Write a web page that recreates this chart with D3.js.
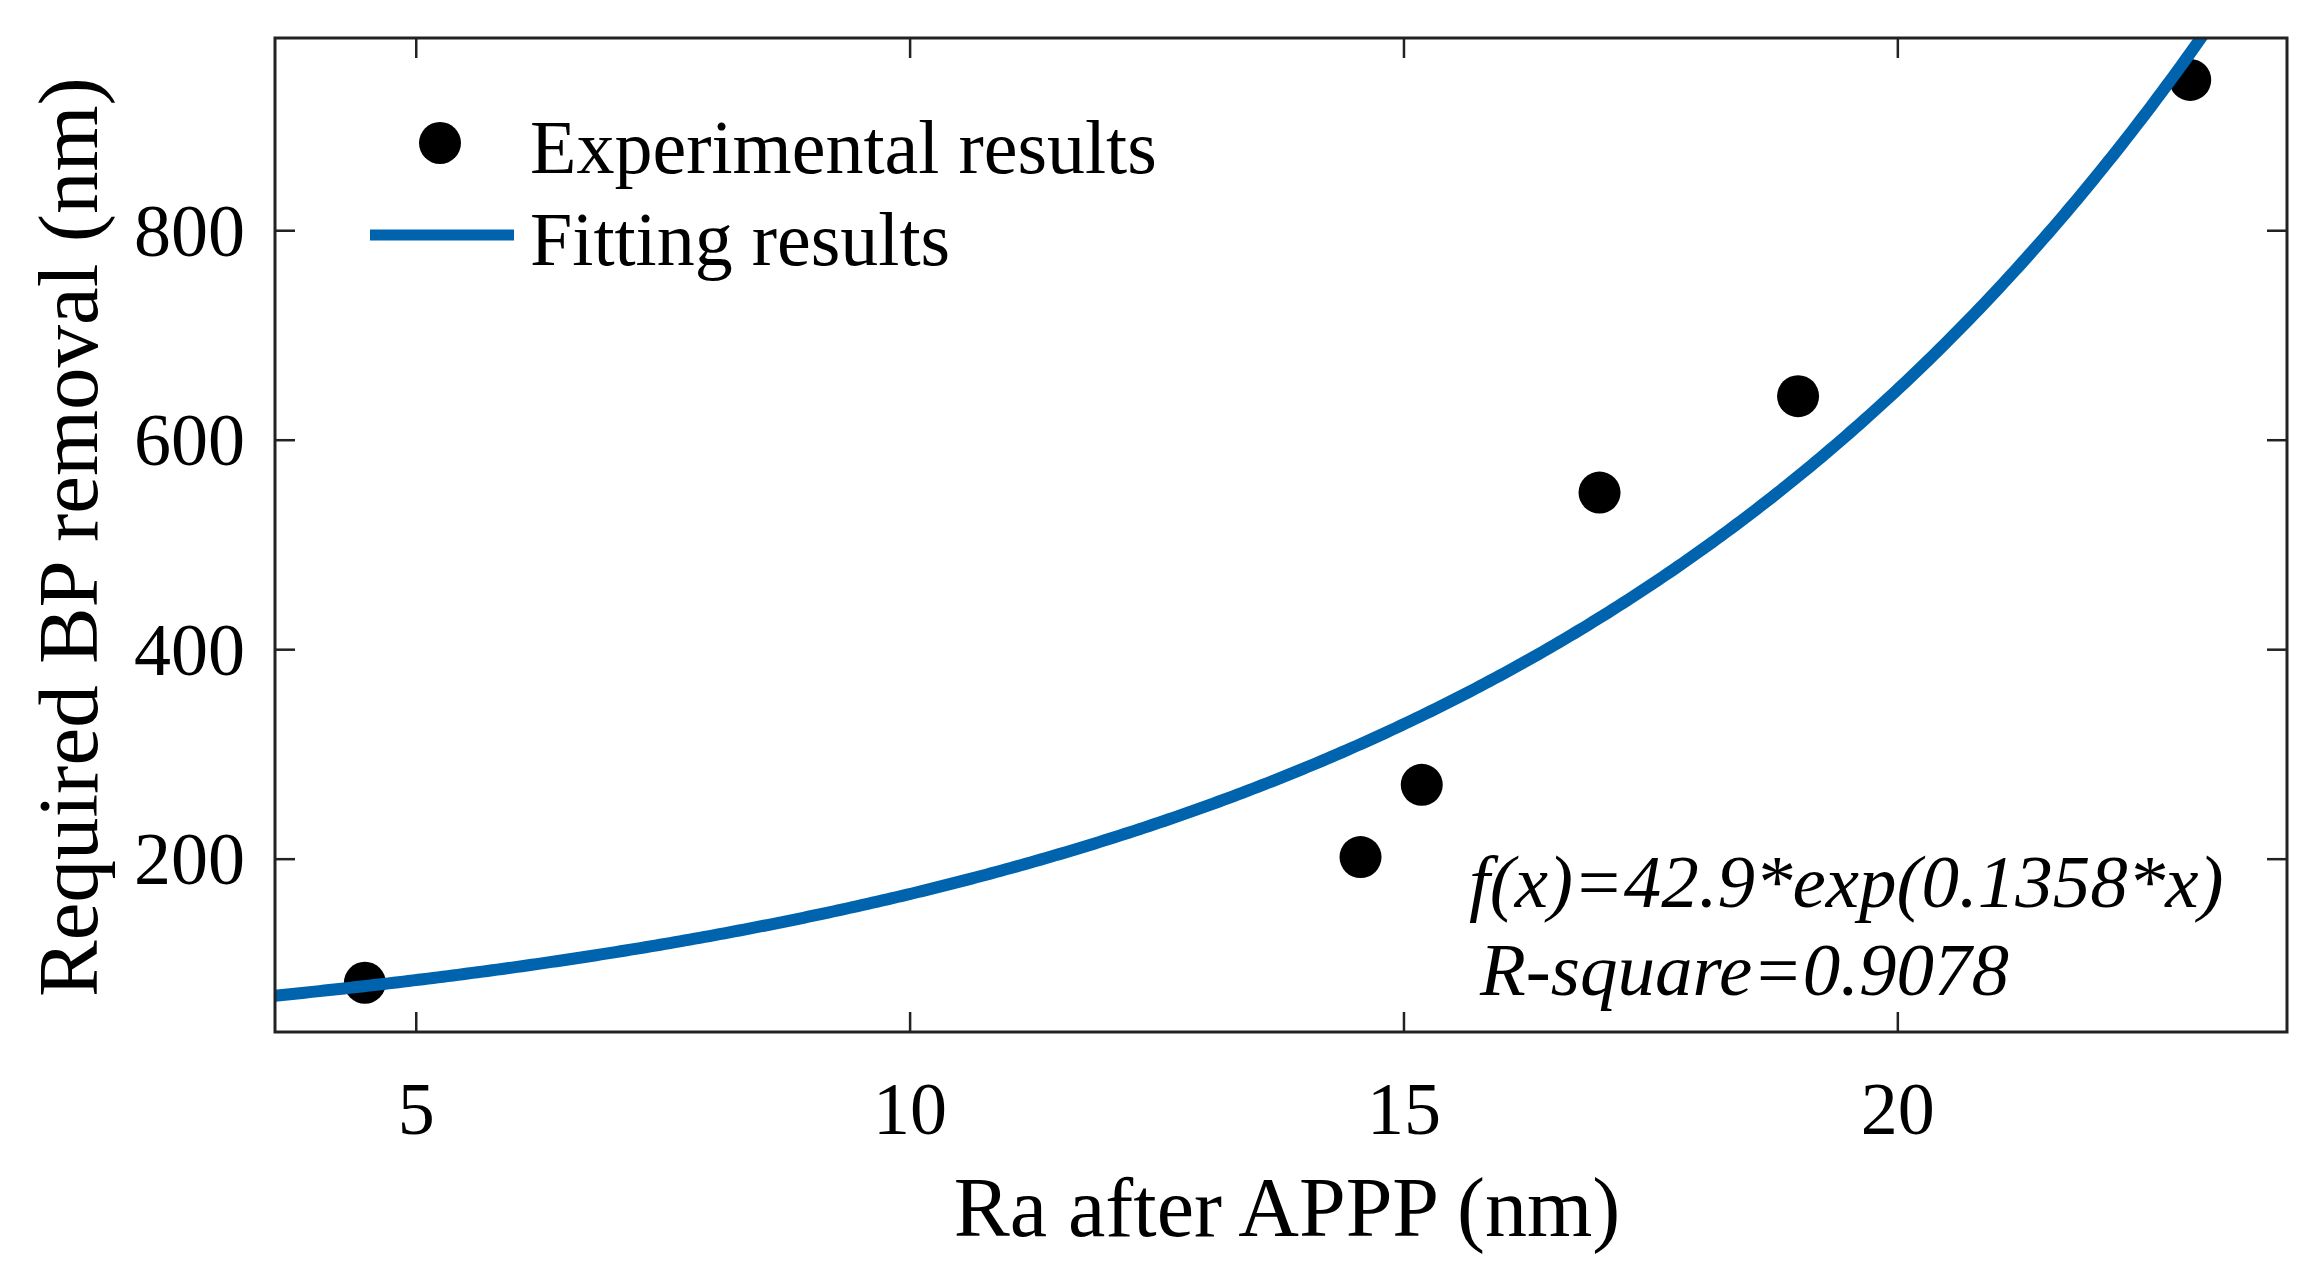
<!DOCTYPE html>
<html lang="en">
<head>
  <meta charset="utf-8">
  <script src="https://d3js.org/d3.v7.min.js"></script>
  <style>
    html, body { margin: 0; padding: 0; background: #fff; }
    svg { display: block; }
    text { font-family: "Liberation Serif", "Times New Roman", serif; fill: #000; }
  </style>
</head>
<body>
  <svg id="chart" width="2318" height="1270"></svg>

  <script>
    const width = 2318, height = 1270;

    // experimental points
    const raValues = [4.48, 14.56, 15.18, 16.98, 18.99, 22.96];
    const bpValues = [82, 202, 271, 550, 642, 944];

    // fit coefficients as printed on the figure
    const fitA = 42.9, fitB = 0.1358;

    const xTicks = [5, 10, 15, 20];
    const yTicks = [200, 400, 600, 800];
    const xDomain = [3.57, 23.94];
    const yDomain = [35, 984];

    const plot = { left: 275, right: 2287, top: 38, bottom: 1032 };
    const blue = "#0063ad";

    const svg = d3.select("#chart");

    const x = d3.scaleLinear().domain(xDomain).range([plot.left, plot.right]);
    const y = d3.scaleLinear().domain(yDomain).range([plot.bottom, plot.top]);

    svg.append("defs").append("clipPath").attr("id", "plotClip")
      .append("rect")
      .attr("x", plot.left).attr("y", plot.top)
      .attr("width", plot.right - plot.left)
      .attr("height", plot.bottom - plot.top);

    // fitted curve
    const fitX = d3.range(xDomain[0], xDomain[1] + 0.001, 0.05);
    const line = d3.line()
      .x(d => x(d))
      .y(d => y(fitA * Math.exp(fitB * d)));

    // points first, curve over them (as in the figure)
    svg.append("g").attr("clip-path", "url(#plotClip)")
      .selectAll("circle")
      .data(raValues.map((v, i) => ({ ra: v, bp: bpValues[i] })))
      .enter().append("circle")
      .attr("cx", d => x(d.ra))
      .attr("cy", d => y(d.bp))
      .attr("r", 21)
      .attr("fill", "#000");

    svg.append("path")
      .attr("clip-path", "url(#plotClip)")
      .attr("d", line(fitX))
      .attr("fill", "none")
      .attr("stroke", blue)
      .attr("stroke-width", 12);

    // axes box
    svg.append("rect")
      .attr("x", plot.left).attr("y", plot.top)
      .attr("width", plot.right - plot.left)
      .attr("height", plot.bottom - plot.top)
      .attr("fill", "none")
      .attr("stroke", "#222")
      .attr("stroke-width", 3);

    const tickLen = 20;
    const ticks = svg.append("g").attr("stroke", "#222").attr("stroke-width", 2.5);

    xTicks.forEach(t => {
      ticks.append("line").attr("x1", x(t)).attr("x2", x(t))
        .attr("y1", plot.bottom).attr("y2", plot.bottom - tickLen);
      ticks.append("line").attr("x1", x(t)).attr("x2", x(t))
        .attr("y1", plot.top).attr("y2", plot.top + tickLen);
    });
    yTicks.forEach(t => {
      ticks.append("line").attr("x1", plot.left).attr("x2", plot.left + tickLen)
        .attr("y1", y(t)).attr("y2", y(t));
      ticks.append("line").attr("x1", plot.right).attr("x2", plot.right - tickLen)
        .attr("y1", y(t)).attr("y2", y(t));
    });

    // tick labels
    svg.append("g").selectAll("text")
      .data(xTicks)
      .enter().append("text")
      .attr("x", d => x(d))
      .attr("y", 1134)
      .attr("text-anchor", "middle")
      .style("font-size", "74px")
      .text(d => d);

    svg.append("g").selectAll("text")
      .data(yTicks)
      .enter().append("text")
      .attr("x", 245)
      .attr("y", d => y(d) + 25)
      .attr("text-anchor", "end")
      .style("font-size", "74px")
      .text(d => d);

    // axis titles
    svg.append("text")
      .attr("x", (plot.left + plot.right) / 2 + 6)
      .attr("y", 1236)
      .attr("text-anchor", "middle")
      .style("font-size", "84px")
      .text("Ra after APPP (nm)");

    svg.append("text")
      .attr("transform", `translate(97, ${(85 + 989) / 2}) rotate(-90)`)
      .attr("text-anchor", "middle")
      .style("font-size", "85px")
      .text("Required BP removal (nm)");

    // legend
    const legend = svg.append("g");
    legend.append("circle")
      .attr("cx", 440).attr("cy", 143).attr("r", 21).attr("fill", "#000");
    legend.append("text")
      .attr("x", 530).attr("y", 173)
      .style("font-size", "76px")
      .text("Experimental results");
    legend.append("line")
      .attr("x1", 370).attr("x2", 514)
      .attr("y1", 235).attr("y2", 235)
      .attr("stroke", blue).attr("stroke-width", 11);
    legend.append("text")
      .attr("x", 530).attr("y", 265)
      .style("font-size", "76px")
      .text("Fitting results");

    // fit annotation
    const note = svg.append("g").style("font-style", "italic").style("font-size", "75px");
    note.append("text").attr("x", 1469).attr("y", 907)
      .text("f(x)=42.9*exp(0.1358*x)");
    note.append("text").attr("x", 1480).attr("y", 995)
      .text("R-square=0.9078");
  </script>
</body>
</html>
